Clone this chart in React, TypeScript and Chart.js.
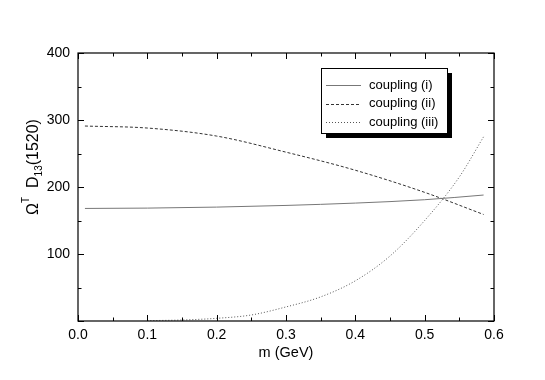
import React, { useEffect, useRef } from "react";
import { Chart, registerables } from "chart.js";

Chart.register(...registerables);

// ---- data ----
const massIandII = [0.01, 0.1, 0.2, 0.3, 0.4, 0.5, 0.585];
const couplingI = [168, 168.5, 170, 172.5, 176, 181, 188];
const couplingII = [291, 288, 276, 252, 225, 192, 159];
const massIII = [0.1, 0.15, 0.2, 0.25, 0.3, 0.35, 0.4, 0.45, 0.5, 0.55, 0.585];
const couplingIII = [0.5, 1.5, 4, 9, 21, 36, 60, 97, 150, 215, 275];
const seriesLabels = ["coupling (i)", "coupling (ii)", "coupling (iii)"];
const xTickValues = [0, 0.1, 0.2, 0.3, 0.4, 0.5, 0.6];
const yTickValues = [100, 200, 300, 400];
const xTitle = "m (GeV)";

const FONT = "'Liberation Sans', Arial, Helvetica, sans-serif";

const decorPlugin = {
  id: "decor",
  afterDraw(chart: any) {
    const ctx = chart.ctx as CanvasRenderingContext2D;
    const ca = chart.chartArea;
    const xs = chart.scales.x;
    const ys = chart.scales.y;
    ctx.save();
    // frame
    ctx.strokeStyle = "#000";
    ctx.lineWidth = 1.2;
    ctx.strokeRect(ca.left, ca.top, ca.right - ca.left, ca.bottom - ca.top);
    // ticks
    ctx.lineWidth = 1;
    ctx.beginPath();
    for (let i = 0; i <= 12; i++) {
      const v = i * 0.05;
      const px = Math.round(xs.getPixelForValue(v)) + 0.5;
      const len = i % 2 === 0 ? 6 : 3.5;
      ctx.moveTo(px, ca.bottom);
      ctx.lineTo(px, ca.bottom - len);
      ctx.moveTo(px, ca.top);
      ctx.lineTo(px, ca.top + len);
    }
    for (let i = 0; i <= 8; i++) {
      const v = i * 50;
      const py = Math.round(ys.getPixelForValue(v)) + 0.5;
      const len = i % 2 === 0 ? 6 : 3.5;
      ctx.moveTo(ca.left, py);
      ctx.lineTo(ca.left + len, py);
      ctx.moveTo(ca.right, py);
      ctx.lineTo(ca.right - len, py);
    }
    ctx.stroke();

    // x title
    ctx.fillStyle = "#000";
    ctx.font = `14.5px ${FONT}`;
    ctx.textAlign = "center";
    ctx.textBaseline = "middle";
    ctx.fillText(xTitle, (ca.left + ca.right) / 2, 353);

    // y title: Ω^T D_13(1520)
    ctx.save();
    ctx.translate(38, 167);
    ctx.rotate(-Math.PI / 2);
    ctx.textAlign = "left";
    ctx.textBaseline = "alphabetic";
    const parts: [string, number, number][] = [
      ["\u03A9", 16, 0],
      ["T", 10, -9],
      ["  D", 16, 0],
      ["13", 10, 4],
      ["(1520)", 16, 0],
    ];
    let total = 0;
    for (const [t, s] of parts) {
      ctx.font = `${s}px ${FONT}`;
      total += ctx.measureText(t).width;
    }
    let x = -total / 2;
    for (const [t, s, dy] of parts) {
      ctx.font = `${s}px ${FONT}`;
      ctx.fillText(t, x, dy);
      x += ctx.measureText(t).width;
    }
    ctx.restore();

    // legend
    const bx = 321, by = 68, bw = 126, bh = 65, sh = 5;
    ctx.fillStyle = "#000";
    ctx.fillRect(bx + sh, by + sh, bw, bh);
    ctx.fillStyle = "#fff";
    ctx.fillRect(bx, by, bw, bh);
    ctx.strokeStyle = "#000";
    ctx.lineWidth = 1;
    ctx.strokeRect(bx + 0.5, by + 0.5, bw, bh);
    ctx.font = `13px ${FONT}`;
    ctx.textAlign = "left";
    ctx.textBaseline = "middle";
    chart.data.datasets.forEach((ds: any, i: number) => {
      const ry = by + 17 + i * 18.5;
      ctx.strokeStyle = ds.borderColor;
      ctx.lineWidth = ds.borderWidth;
      ctx.setLineDash(ds.borderDash || []);
      ctx.beginPath();
      ctx.moveTo(bx + 5, Math.round(ry) + 0.5);
      ctx.lineTo(bx + 40, Math.round(ry) + 0.5);
      ctx.stroke();
      ctx.setLineDash([]);
      ctx.fillStyle = "#000";
      ctx.fillText(ds.label, bx + 48, ry);
    });
    ctx.restore();
  },
};

export default function App() {
  const ref = useRef<HTMLCanvasElement | null>(null);
  useEffect(() => {
    if (!ref.current) return;
    const chart = new Chart(ref.current, {
      type: "line",
      data: {
        datasets: [
          {
            label: seriesLabels[0],
            data: massIandII.map((m, i) => ({ x: m, y: couplingI[i] })),
            borderColor: "#777",
            borderWidth: 1,
            borderDash: [],
            pointRadius: 0,
            cubicInterpolationMode: "monotone",
          },
          {
            label: seriesLabels[1],
            data: massIandII.map((m, i) => ({ x: m, y: couplingII[i] })),
            borderColor: "#333",
            borderWidth: 1,
            borderDash: [3, 2],
            pointRadius: 0,
            cubicInterpolationMode: "monotone",
          },
          {
            label: seriesLabels[2],
            data: massIII.map((m, i) => ({ x: m, y: couplingIII[i] })),
            borderColor: "#555",
            borderWidth: 1,
            borderDash: [1, 2],
            pointRadius: 0,
            cubicInterpolationMode: "monotone",
          },
        ],
      },
      options: {
        animation: false,
        responsive: false,
        devicePixelRatio: 1,
        layout: { padding: { left: 0, top: 53, right: 51, bottom: 0 } },
        plugins: { legend: { display: false }, tooltip: { enabled: false } },
        scales: {
          x: {
            type: "linear",
            min: 0,
            max: 0.6,
            afterBuildTicks: (s: any) => {
              s.ticks = xTickValues.map((v) => ({ value: v }));
            },
            afterFit: (s: any) => {
              s.height = 59;
            },
            grid: { display: false, drawTicks: false },
            border: { display: false },
            ticks: {
              padding: 6,
              color: "#000",
              font: { family: FONT, size: 14 },
              maxRotation: 0,
              callback: (v: any) => Number(v).toFixed(1),
            },
          },
          y: {
            type: "linear",
            min: 0,
            max: 400,
            afterBuildTicks: (s: any) => {
              s.ticks = yTickValues.map((v) => ({ value: v }));
            },
            afterFit: (s: any) => {
              s.width = 78;
            },
            grid: { display: false, drawTicks: false },
            border: { display: false },
            ticks: {
              padding: 8,
              color: "#000",
              font: { family: FONT, size: 14 },
              callback: (v: any) => String(v),
            },
          },
        },
      },
      plugins: [decorPlugin],
    } as any);
    return () => chart.destroy();
  }, []);
  return (
    <div style={{ position: "fixed", left: 0, top: 0, width: 545, height: 380, background: "#fff" }}>
      <canvas ref={ref} width={545} height={380} style={{ width: 545, height: 380 }} />
    </div>
  );
}
